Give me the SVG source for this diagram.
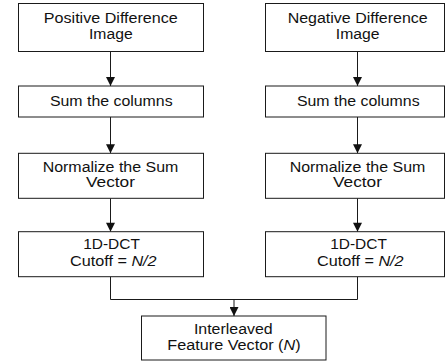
<svg xmlns="http://www.w3.org/2000/svg" width="445" height="362" viewBox="0 0 445 362">
<style>
.box{fill:#fff;stroke:#1a1a1a;stroke-width:1}
.t{font-family:"Liberation Sans",Arial,sans-serif;font-size:14px;fill:#111;text-anchor:middle}
.c{fill:none;stroke:#1a1a1a;stroke-width:1}
</style>
<defs>
<marker id="ah" viewBox="0 0 10 10" refX="10" refY="5" markerWidth="11" markerHeight="9" markerUnits="userSpaceOnUse" orient="auto">
<path d="M0,0 L10,5 L0,10 z" fill="#111"/>
</marker>
</defs>
<rect width="445" height="362" fill="#fff"/>
<g id="connectors">
<line class="c" x1="110.5" y1="51.5" x2="110.5" y2="86" marker-end="url(#ah)"/>
<line class="c" x1="110.5" y1="117" x2="110.5" y2="153.3" marker-end="url(#ah)"/>
<line class="c" x1="110.5" y1="198.3" x2="110.5" y2="231.7" marker-end="url(#ah)"/>
<line class="c" x1="357.5" y1="51.5" x2="357.5" y2="86" marker-end="url(#ah)"/>
<line class="c" x1="357.5" y1="117" x2="357.5" y2="153.3" marker-end="url(#ah)"/>
<line class="c" x1="357.5" y1="198.3" x2="357.5" y2="231.7" marker-end="url(#ah)"/>
<polyline class="c" points="110.5,276.7 110.5,299.5 357.5,299.5 357.5,276.7"/>
<line class="c" x1="234" y1="299.5" x2="234" y2="316" marker-end="url(#ah)"/>
</g>
<g id="pos-image">
<rect class="box" x="18.5" y="3.5" width="185" height="48"/>
<text class="t" x="110.8" y="23.3" textLength="134" lengthAdjust="spacingAndGlyphs">Positive Difference</text>
<text class="t" x="110.8" y="38.5" textLength="43.7" lengthAdjust="spacingAndGlyphs">Image</text>
</g>
<g id="pos-sum">
<rect class="box" x="18.5" y="86" width="185" height="31"/>
<text class="t" x="111.3" y="105.5" textLength="122.7" lengthAdjust="spacingAndGlyphs">Sum the columns</text>
</g>
<g id="pos-norm">
<rect class="box" x="18.5" y="153.3" width="185" height="45"/>
<text class="t" x="110.5" y="171.7" textLength="135.7" lengthAdjust="spacingAndGlyphs">Normalize the Sum</text>
<text class="t" x="110.5" y="186.7" textLength="49" lengthAdjust="spacingAndGlyphs">Vector</text>
</g>
<g id="pos-dct">
<rect class="box" x="18.5" y="231.7" width="185" height="45"/>
<text class="t" x="111.5" y="249" textLength="56.7" lengthAdjust="spacingAndGlyphs">1D-DCT</text>
<text class="t" x="113.3" y="266" textLength="86.7" lengthAdjust="spacingAndGlyphs">Cutoff = <tspan font-style="italic">N/2</tspan></text>
</g>
<g id="neg-image">
<rect class="box" x="265.5" y="3.5" width="179" height="48"/>
<text class="t" x="357.7" y="23.3" textLength="140" lengthAdjust="spacingAndGlyphs">Negative Difference</text>
<text class="t" x="357.7" y="38.5" textLength="43.7" lengthAdjust="spacingAndGlyphs">Image</text>
</g>
<g id="neg-sum">
<rect class="box" x="265.5" y="86" width="179" height="31"/>
<text class="t" x="358.3" y="105.5" textLength="122.7" lengthAdjust="spacingAndGlyphs">Sum the columns</text>
</g>
<g id="neg-norm">
<rect class="box" x="265.5" y="153.3" width="179" height="45"/>
<text class="t" x="357.5" y="171.7" textLength="135.7" lengthAdjust="spacingAndGlyphs">Normalize the Sum</text>
<text class="t" x="357.5" y="186.7" textLength="49" lengthAdjust="spacingAndGlyphs">Vector</text>
</g>
<g id="neg-dct">
<rect class="box" x="265.5" y="231.7" width="179" height="45"/>
<text class="t" x="358.5" y="249" textLength="56.7" lengthAdjust="spacingAndGlyphs">1D-DCT</text>
<text class="t" x="360.3" y="266" textLength="86.7" lengthAdjust="spacingAndGlyphs">Cutoff = <tspan font-style="italic">N/2</tspan></text>
</g>
<g id="interleaved">
<rect class="box" x="141.5" y="316" width="184.5" height="44"/>
<text class="t" x="233.3" y="334.3" textLength="78.7" lengthAdjust="spacingAndGlyphs">Interleaved</text>
<text class="t" x="234" y="350" textLength="133.3" lengthAdjust="spacingAndGlyphs">Feature Vector (<tspan font-style="italic">N</tspan>)</text>
</g>
</svg>
